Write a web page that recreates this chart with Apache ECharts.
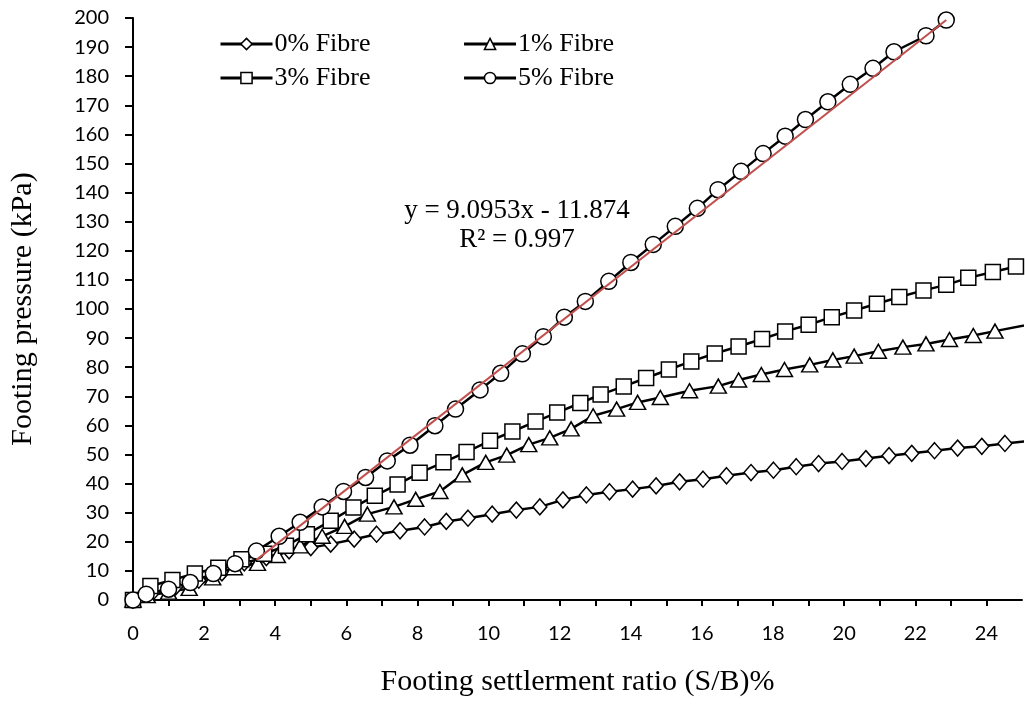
<!DOCTYPE html>
<html>
<head>
<meta charset="utf-8">
<script src="https://cdn.jsdelivr.net/npm/echarts@6/dist/echarts.min.js"></script>
<style>
    html, body { margin: 0; padding: 0; background: #fff; }
    #chart { width: 1025px; height: 708px; }
</style>
</head>
<body>
<div id="chart"></div>
<script>
// values
var fibre0X = [0, 0.55, 1.2, 1.85, 2.5, 3.13, 3.75, 4.39, 5.0, 5.56, 6.22, 6.85, 7.51, 8.2, 8.81, 9.42, 10.1, 10.78, 11.44, 12.09, 12.75, 13.4, 14.05, 14.71, 15.37, 16.03, 16.69, 17.38, 18.01, 18.65, 19.28, 19.94, 20.61, 21.26, 21.9, 22.54, 23.19, 23.87, 24.52, 25.2];
var fibre0Y = [0, 2.5, 4.5, 6.8, 9.3, 12.8, 14.6, 16.9, 18.0, 19.2, 20.9, 22.6, 23.8, 25.1, 27.0, 28.1, 29.5, 30.9, 32.0, 34.4, 36.1, 37.2, 38.1, 39.2, 40.6, 41.5, 42.7, 43.8, 44.6, 45.8, 46.9, 47.6, 48.6, 49.6, 50.4, 51.3, 52.2, 52.8, 53.8, 54.6];

var fibre1X = [0, 0.4, 1.0, 1.58, 2.24, 2.85, 3.5, 4.06, 4.7, 5.32, 5.95, 6.59, 7.34, 7.95, 8.63, 9.26, 9.92, 10.51, 11.13, 11.72, 12.32, 12.94, 13.6, 14.19, 14.83, 15.65, 16.46, 17.03, 17.67, 18.32, 19.03, 19.68, 20.28, 20.96, 21.65, 22.3, 22.96, 23.63, 24.24, 25.5];
var fibre1Y = [0, 1.5, 2.7, 4.0, 7.6, 11.1, 12.6, 15.3, 18.6, 21.9, 25.3, 29.5, 32.0, 34.6, 37.3, 43.0, 47.3, 49.8, 53.4, 55.7, 58.8, 63.3, 65.6, 67.9, 69.6, 71.9, 73.5, 75.6, 77.5, 79.2, 80.8, 82.5, 83.8, 85.5, 86.9, 88.0, 89.5, 90.9, 92.4, 95.4];

var fibre3X = [0, 0.49, 1.11, 1.74, 2.4, 3.05, 3.69, 4.3, 4.89, 5.56, 6.2, 6.8, 7.44, 8.06, 8.73, 9.38, 10.04, 10.67, 11.32, 11.93, 12.58, 13.15, 13.8, 14.43, 15.07, 15.7, 16.36, 17.03, 17.69, 18.34, 19.0, 19.65, 20.28, 20.92, 21.55, 22.23, 22.87, 23.49, 24.18, 24.83];
var fibre3Y = [0, 4.8, 6.9, 9.1, 11.1, 14.0, 15.9, 18.6, 22.6, 27.2, 31.8, 35.8, 39.7, 43.7, 47.3, 50.9, 54.7, 57.9, 61.3, 64.4, 67.7, 70.6, 73.4, 76.3, 79.2, 82.0, 84.7, 87.1, 89.7, 92.3, 94.6, 97.2, 99.5, 101.8, 104.1, 106.4, 108.3, 110.7, 112.7, 114.6];

var fibre5X = [0, 0.37, 1.0, 1.61, 2.26, 2.87, 3.47, 4.11, 4.7, 5.32, 5.92, 6.54, 7.15, 7.79, 8.49, 9.07, 9.76, 10.34, 10.95, 11.54, 12.13, 12.72, 13.38, 14.0, 14.63, 15.25, 15.87, 16.45, 17.1, 17.72, 18.34, 18.91, 19.54, 20.17, 20.81, 21.4, 22.3, 22.87];
var fibre5Y = [0, 2.0, 3.7, 6.0, 9.1, 12.5, 16.8, 21.9, 26.7, 32.0, 37.3, 42.1, 47.8, 53.2, 59.9, 65.6, 72.2, 77.9, 84.6, 90.5, 97.2, 102.6, 109.5, 116.0, 122.2, 128.4, 134.6, 141.0, 147.3, 153.4, 159.4, 165.1, 171.2, 177.2, 182.7, 188.4, 193.9, 199.3];

// linear trendline of the 5% series, ends as drawn in the picture
var trendX = [3.47, 22.87];
var trendY = [13.8, 199.3];

var seriesNames = ['0% Fibre', '1% Fibre', '3% Fibre', '5% Fibre'];
var eqText = 'y = 9.0953x - 11.874';
var r2Text = 'R² = 0.997';

function pairs(xs, ys) {
    var out = [];
    for (var i = 0; i < xs.length; i++) {
        out.push([xs[i], ys[i]]);
    }
    return out;
}

function markerSeries(name, xs, ys, symbol, size) {
    return {
        name: name,
        type: 'line',
        data: pairs(xs, ys),
        symbol: symbol,
        symbolSize: size,
        showAllSymbol: true,
        clip: true,
        lineStyle: { color: '#000', width: 2.5 },
        itemStyle: { color: '#fff', borderColor: '#000', borderWidth: 1.5 },
        emphasis: { disabled: true }
    };
}

var serif = 'Liberation Serif';
var myChart = echarts.init(document.getElementById('chart'));

var legendBase = {
    itemWidth: 52, itemHeight: 14, itemGap: 92,
    lineStyle: { color: '#000', width: 3 },
    itemStyle: { color: '#fff', borderColor: '#000', borderWidth: 1.5 },
    textStyle: { fontFamily: serif, fontSize: 26, color: '#000', padding: [0, 0, 0, -3] }
};

var option = {
    animation: false,
    backgroundColor: '#fff',
    grid: { left: 132, right: 3, top: 18, bottom: 108 },
    legend: [
        Object.assign({ data: [seriesNames[0], seriesNames[1]], left: 214, top: 26 }, legendBase),
        Object.assign({ data: [seriesNames[2], seriesNames[3]], left: 214, top: 60 }, legendBase)
    ],
    xAxis: {
        type: 'value',
        min: 0, max: 25, interval: 1,
        name: 'Footing settlerment ratio (S/B)%',
        nameLocation: 'middle',
        nameGap: 67,
        nameTextStyle: { fontFamily: serif, fontSize: 30, color: '#000' },
        axisLine: { onZero: false, lineStyle: { color: '#000', width: 2 } },
        axisTick: { show: true, length: 6, lineStyle: { color: '#000', width: 2 } },
        axisLabel: {
            margin: 24,
            fontFamily: 'Lato', fontSize: 20, color: '#000',
            showMaxLabel: false,
            formatter: function (v) { return v % 2 === 0 ? v : ''; }
        },
        splitLine: { show: false }
    },
    yAxis: {
        type: 'value',
        min: 0, max: 200, interval: 10,
        name: 'Footing pressure (kPa)',
        nameLocation: 'middle',
        nameGap: 95,
        nameTextStyle: { fontFamily: serif, fontSize: 30, color: '#000' },
        axisLine: { show: true, lineStyle: { color: '#000', width: 2 } },
        axisTick: { show: true, length: 8, lineStyle: { color: '#000', width: 2 } },
        axisLabel: { margin: 24, fontFamily: 'Lato', fontSize: 20, color: '#000' },
        splitLine: { show: false }
    },
    series: [
        markerSeries(seriesNames[0], fibre0X, fibre0Y, 'diamond', [14, 16]),
        markerSeries(seriesNames[1], fibre1X, fibre1Y, 'triangle', [16, 14]),
        markerSeries(seriesNames[2], fibre3X, fibre3Y, 'rect', 15),
        markerSeries(seriesNames[3], fibre5X, fibre5Y, 'circle', 16),
        {
            name: 'Linear (5% Fibre)',
            type: 'line',
            data: pairs(trendX, trendY),
            symbol: 'none',
            lineStyle: { color: '#c0504d', width: 2 },
            emphasis: { disabled: true },
            z: 5
        }
    ],
    graphic: [{
        type: 'text',
        x: 517, y: 197,
        style: { text: eqText, fontFamily: serif, fontSize: 27, fill: '#000', textAlign: 'center' }
    }, {
        type: 'text',
        x: 517, y: 226,
        style: { text: r2Text, fontFamily: serif, fontSize: 27, fill: '#000', textAlign: 'center' }
    }]
};

myChart.setOption(option);
</script>
</body>
</html>
